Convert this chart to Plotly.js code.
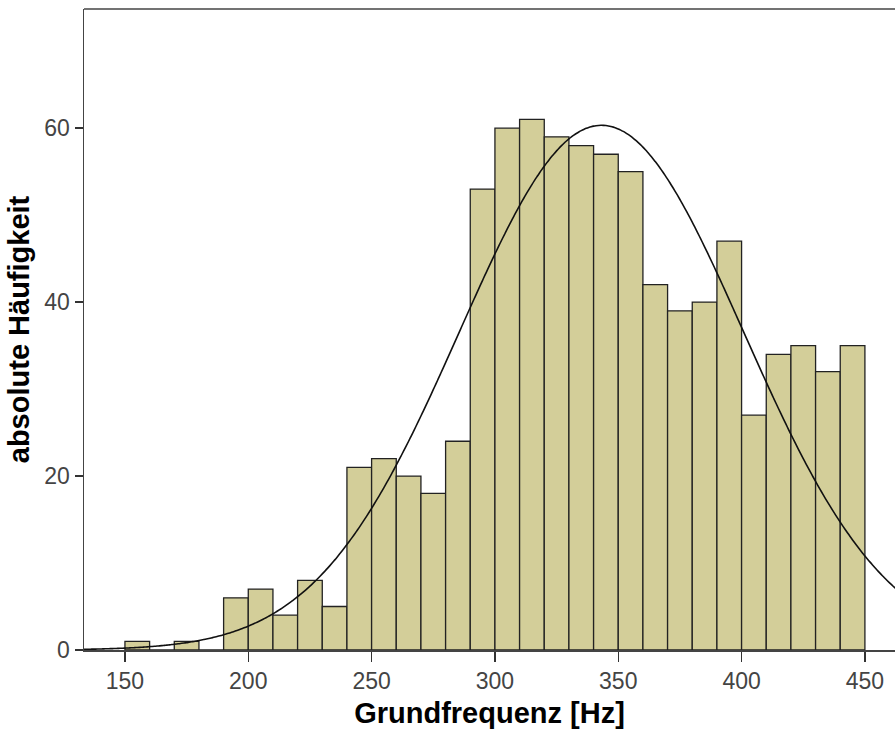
<!DOCTYPE html>
<html>
<head>
<meta charset="utf-8">
<script src="https://cdn.plot.ly/plotly-3.0.1.min.js"></script>
<style>html,body{margin:0;padding:0;background:#fff;overflow:hidden;}</style>
</head>
<body>
<div id="chart" style="width:895px;height:731px;"></div>
<script>
// Bin start (Hz), bin width 10
const binStarts = [150,160,170,180,190,200,210,220,230,240,250,260,270,280,290,300,310,320,330,340,350,360,370,380,390,400,410,420,430,440];
const counts    = [1,0,1,0,6,7,4,8,5,21,22,20,18,24,53,60,61,59,58,57,55,42,39,40,47,27,34,35,32,35];
const binWidth = 10;
// Fitted normal curve parameters
const curveMean = 343.2;
const curveSD = 57.6;
const curveN = 871;
const xTicks = [150,200,250,300,350,400,450];
const yTicks = [0,20,40,60];

const curveX = [], curveY = [];
for (let x = 130; x <= 470; x += 1) {
  curveX.push(x);
  const z = (x - curveMean) / curveSD;
  curveY.push(curveN * binWidth / (curveSD * Math.sqrt(2 * Math.PI)) * Math.exp(-0.5 * z * z));
}

const traces = [
  {
    type: 'bar',
    x: binStarts,
    y: counts,
    width: binWidth,
    offset: 0,
    marker: {color: '#d3ce99', line: {color: '#222', width: 1.3}},
    hoverinfo: 'x+y'
  },
  {
    type: 'scatter',
    mode: 'lines',
    x: curveX,
    y: curveY,
    line: {color: '#111', width: 1.6, shape: 'spline'},
    hoverinfo: 'skip'
  }
];

const titleFont = {size: 29, color: '#000', family: 'Liberation Sans, Arial, sans-serif', weight: 'bold'};

const layout = {
  width: 895,
  height: 731,
  margin: {l: 84, r: 0, t: 9, b: 81},
  paper_bgcolor: '#fff',
  plot_bgcolor: '#fff',
  showlegend: false,
  bargap: 0,
  font: {family: 'Liberation Sans, Arial, sans-serif'},
  xaxis: {
    range: [133.4, 462.2],
    tickvals: xTicks,
    ticktext: xTicks.map(String),
    ticks: 'outside',
    ticklen: 10,
    tickwidth: 1.5,
    tickcolor: '#333',
    showline: true,
    linecolor: '#444',
    linewidth: 1.5,
    showgrid: false,
    zeroline: false,
    tickfont: {size: 23, color: '#444'},
    title: {text: 'Grundfrequenz [Hz]', font: titleFont, standoff: 9}
  },
  yaxis: {
    range: [0, 73.7],
    tickvals: yTicks,
    ticktext: yTicks.map(String),
    ticks: 'outside',
    ticklen: 8,
    tickwidth: 1.5,
    tickcolor: '#333',
    showline: true,
    linecolor: '#444',
    linewidth: 1.5,
    showgrid: false,
    zeroline: false,
    tickfont: {size: 23, color: '#444'},
    title: {text: 'absolute Häufigkeit', font: titleFont, standoff: 6}
  },
  shapes: [
    {type: 'line', xref: 'paper', yref: 'paper', x0: 0, x1: 1, y0: 1, y1: 1, line: {color: '#444', width: 1.5}}
  ]
};

Plotly.newPlot('chart', traces, layout, {displayModeBar: false, staticPlot: true});
</script>
</body>
</html>
